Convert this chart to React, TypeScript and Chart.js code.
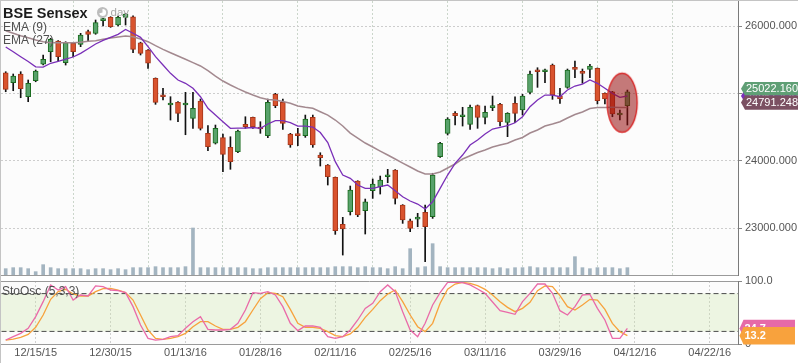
import React, { useEffect, useRef } from 'react';
import { Chart, registerables } from 'chart.js';

Chart.register(...registerables);

const FONT = "'Liberation Sans', Arial, Helvetica, sans-serif";

// ---------- data (one entry per trading day, 12/09/15 .. 04/11/16) ----------
const opens = [
  25307, 25159, 25288, 24951, 25188, 25432, 25619, 25777, 25456, 25743,
  25728, 25916, 25891, 26079, 26129, 26015, 26129, 26138, 25752, 25644,
  25224, 24976, 24828, 24868, 24828, 24630, 24887, 24408, 24260, 24343,
  24200, 24135, 24541, 24645, 24491, 24372, 24987, 24868, 24398, 24398,
  24373, 24645, 24086, 23938, 23755, 23058, 23245, 23700, 23259, 23556,
  23616, 23764, 23863, 23344, 23111, 23136, 23236, 23171, 24061, 24408,
  24705, 24654, 24541, 24818, 24645, 24788, 24838, 24571, 24853, 24754,
  25016, 25347, 25322, 25421, 24961, 25090, 25381, 25322, 25357, 25372,
  25001, 25025, 24680, 24818,
];
const highs = [
  25322, 25288, 25322, 25199, 25347, 25570, 25818, 25782, 25767, 25752,
  25891, 25941, 26089, 26114, 26138, 26148, 26188, 26150, 25760, 25650,
  25230, 25076, 24951, 24877, 25016, 25016, 24917, 24521, 24531, 24398,
  24357, 24457, 24654, 24650, 24580, 24917, 25001, 24917, 24408, 24482,
  24679, 24679, 24120, 23945, 23760, 23162, 23626, 23705, 23433, 23730,
  23774, 23874, 23870, 23350, 23136, 23221, 23344, 23815, 24274, 24640,
  24729, 24794, 24828, 24828, 24813, 24961, 24853, 24714, 24951, 24987,
  25332, 25381, 25362, 25436, 25076, 25362, 25481, 25362, 25431, 25378,
  25008, 25030, 24754, 25050,
];
const lows = [
  25025, 25040, 24936, 24877, 25173, 25421, 25470, 25481, 25421, 25545,
  25693, 25767, 25877, 26000, 25980, 26000, 26015, 25604, 25570, 25372,
  24838, 24902, 24605, 24580, 24387, 24482, 24457, 24150, 24249, 23838,
  23874, 24120, 24482, 24482, 24408, 24343, 24788, 24467, 24200, 24224,
  24348, 24200, 23923, 23641, 22909, 22602, 23196, 23171, 22914, 23443,
  23507, 23675, 23359, 23072, 22948, 23022, 22503, 23146, 24052, 24383,
  24531, 24516, 24467, 24482, 24546, 24744, 24516, 24358, 24565, 24679,
  24991, 25090, 25159, 24912, 24853, 25076, 25233, 25150, 25233, 24843,
  24843, 24654, 24605, 24531,
];
const closes = [
  25061, 25258, 25070, 25150, 25332, 25506, 25803, 25545, 25752, 25619,
  25866, 25877, 26049, 26099, 25990, 26129, 26178, 25654, 25595, 25447,
  24868, 24951, 24853, 24705, 24853, 24779, 24482, 24209, 24482, 24096,
  23987, 24442, 24506, 24506, 24472, 24868, 24818, 24556, 24234, 24373,
  24620, 24234, 24046, 23764, 22963, 22988, 23567, 23196, 23393, 23656,
  23715, 23789, 23443, 23122, 22998, 23162, 23022, 23789, 24260, 24620,
  24669, 24679, 24794, 24645, 24720, 24813, 24580, 24705, 24705, 24961,
  25288, 25322, 25347, 24976, 24921, 25347, 25357, 25298, 25406, 24892,
  24917, 24694, 24705, 25022.16,
];
const volumes = [
  19, 22, 22, 19, 10, 31, 22, 19, 19, 19,
  19, 16, 19, 19, 16, 19, 16, 22, 22, 22,
  25, 22, 22, 22, 25, 141, 22, 22, 22, 22,
  22, 22, 22, 19, 19, 22, 22, 22, 22, 22,
  22, 22, 22, 22, 25, 25, 25, 22, 25, 22,
  22, 19, 25, 19, 79, 22, 25, 94, 25, 22,
  22, 22, 22, 22, 22, 19, 22, 19, 22, 22,
  25, 22, 22, 22, 22, 22, 55, 22, 19, 22,
  22, 22, 19, 22,
];
const ema9 = [
  25688, 25619, 25545, 25473, 25395, 25390, 25447, 25476, 25510, 25540,
  25595, 25663, 25733, 25788, 25832, 25877, 25948, 25892, 25832, 25693,
  25545, 25421, 25298, 25199, 25150, 25076, 24951, 24779, 24680, 24580,
  24482, 24485, 24487, 24494, 24482, 24546, 24595, 24595, 24565, 24516,
  24516, 24501, 24420, 24270, 23987, 23789, 23740, 23641, 23592, 23592,
  23616, 23641, 23556, 23467, 23404, 23359, 23285, 23393, 23592, 23789,
  23963, 24086, 24234, 24309, 24398, 24472, 24497, 24521, 24565, 24654,
  24803, 24902, 24976, 24976, 24951, 25050, 25110, 25139, 25199, 25150,
  25076, 25001, 24942, 24961.42,
];
const ema27 = [
  25930, 25892, 25856, 25826, 25792, 25767, 25752, 25752, 25752, 25752,
  25758, 25773, 25782, 25803, 25822, 25837, 25852, 25841, 25807, 25767,
  25708, 25654, 25604, 25555, 25506, 25456, 25407, 25337, 25258, 25184,
  25125, 25070, 25021, 24976, 24936, 24909, 24902, 24880, 24853, 24813,
  24794, 24779, 24728, 24679, 24605, 24516, 24412, 24338, 24264, 24205,
  24145, 24086, 24027, 23967, 23908, 23849, 23804, 23804, 23834, 23893,
  23953, 24027, 24076, 24123, 24160, 24205, 24234, 24260, 24309, 24346,
  24412, 24457, 24516, 24546, 24580, 24635, 24687, 24724, 24776, 24790,
  24792, 24793, 24792, 24791.248,
];
const stochK = [
  6.3, 11.6, 16.9, 24.9, 43.4, 67.2, 93.7, 85.7, 91, 69.8,
  77.8, 76.2, 92.1, 91, 85.7, 84.7, 81.5, 59.3, 30.2, 9,
  6.3, 7.4, 11.6, 13.2, 24.9, 35.4, 43.4, 23.3, 22.2, 22.2,
  23.3, 32.8, 54, 81.5, 80.4, 83.1, 77.8, 59.3, 32.8, 21.2,
  28.6, 28.6, 26.5, 11.6, 9, 11.6, 22.2, 38.1, 56.6, 64.6,
  83.1, 93.7, 83.1, 51.3, 22.2, 11.6, 32.8, 61.9, 81.5, 97.9,
  97.9, 97.4, 93.7, 87.3, 80.4, 66.7, 52.9, 50.3, 47.1, 67.2,
  80.4, 95.2, 95.2, 80.4, 52.9, 46, 59.3, 77.8, 78.8, 56.6,
  38.1, 9, 9, 24.7,
];
const stochD = [
  6.3, 7.9, 10.6, 15.3, 26.5, 46, 70.9, 83.1, 86.8, 79.4,
  76.2, 76.2, 83.1, 87.8, 88.4, 85.7, 81.5, 69.8, 46, 22.2,
  9, 7.4, 9, 11.6, 16.9, 27.5, 35.4, 35.4, 28.6, 23.3,
  23.3, 26.5, 35.4, 54, 72, 81.5, 80.4, 75.1, 55, 32.8,
  26.5, 26.5, 24.9, 19.6, 13.2, 11.6, 15.9, 26.5, 42.3, 55,
  68.8, 79.4, 85.7, 67.2, 46, 27.5, 19.6, 32.8, 64.6, 86.8,
  95.2, 97.9, 96.3, 92.6, 86.8, 77.8, 67.2, 58.2, 51.3, 56.6,
  66.1, 84.7, 92.1, 91, 76.7, 59.3, 54, 61.9, 70.9, 69.8,
  55, 32.8, 19.6, 13.2,
];
const tickIndices = [4, 14, 24, 34, 44, 54, 64, 74, 84, 94];
const tickLabels = ['12/15/15', '12/30/15', '01/13/16', '01/28/16', '02/11/16', '02/25/16', '03/11/16', '03/29/16', '04/12/16', '04/22/16'];
const priceTicks = [23000, 24000, 25000, 26000];
const oscTicks = [0, 100];
const overbought = 80;
const oversold = 20;
const highlightPoint = { x: 82.3, y: 24862 };

// ---------- helpers ----------
const X_MIN = -0.63;
const X_MAX = 97.77;
const LAST = closes.length - 1;

function drawBadge(ctx: CanvasRenderingContext2D, tipX: number, cy: number, h: number, right: number, fill: string, text: string, font: string) {
  const bx = tipX + 4;
  ctx.save();
  ctx.beginPath();
  ctx.moveTo(tipX, cy);
  ctx.lineTo(bx, cy - h / 2);
  ctx.lineTo(right, cy - h / 2);
  ctx.lineTo(right, cy + h / 2);
  ctx.lineTo(bx, cy + h / 2);
  ctx.closePath();
  ctx.fillStyle = fill;
  ctx.fill();
  ctx.fillStyle = '#ffffff';
  ctx.font = font;
  ctx.textAlign = 'left';
  ctx.textBaseline = 'middle';
  ctx.fillText(text, bx + 1, cy + 0.5);
  ctx.restore();
}

function xScaleBase(showLabels: boolean) {
  return {
    type: 'linear' as const,
    min: X_MIN,
    max: X_MAX,
    offset: false,
    afterBuildTicks: (s: any) => { s.ticks = tickIndices.map((v) => ({ value: v })); },
    ticks: {
      display: showLabels,
      autoSkip: false,
      maxRotation: 0,
      padding: 2,
      color: '#555',
      font: { size: 11, family: FONT },
      callback: (v: any) => tickLabels[tickIndices.indexOf(Number(v))] ?? '',
    },
    grid: { color: showLabels ? '#cfcfcf' : '#cbd6cb', drawTicks: false, lineWidth: 1 },
    border: { display: true, color: '#9a9a9a', dash: [2, 2] },
    afterFit: (s: any) => { s.height = showLabels ? 19 : 0; s.paddingLeft = 0; s.paddingRight = 0; },
  };
}

export default function App() {
  const mainRef = useRef<HTMLCanvasElement>(null);
  const oscRef = useRef<HTMLCanvasElement>(null);

  useEffect(() => {
    Chart.defaults.font.family = FONT;

    // annotation ellipse used as a point style
    const ell = document.createElement('canvas');
    ell.width = 34;
    ell.height = 64;
    const ec = ell.getContext('2d')!;
    ec.beginPath();
    ec.ellipse(17, 32, 15, 29.5, 0, 0, Math.PI * 2);
    ec.fillStyle = 'rgba(150,12,12,0.55)';
    ec.fill();
    ec.lineWidth = 1.4;
    ec.strokeStyle = '#d82a2a';
    ec.stroke();

    const idx = closes.map((_, i) => i);
    const up = idx.map((i) => closes[i] >= opens[i]);

    const mainPlugin = {
      id: 'mainDeco',
      beforeDraw(chart: any) {
        const { ctx, chartArea: a } = chart;
        ctx.save();
        ctx.fillStyle = '#fcfcfc';
        ctx.fillRect(a.left, a.top, a.right - a.left, a.bottom - a.top);
        ctx.restore();
      },
      afterDraw(chart: any) {
        const { ctx } = chart;
        ctx.save();
        // frame
        ctx.strokeStyle = '#c4c4c4';
        ctx.lineWidth = 1;
        ctx.beginPath();
        ctx.moveTo(0, 0.5); ctx.lineTo(798, 0.5);
        ctx.moveTo(0.5, 0); ctx.lineTo(0.5, 276);
        ctx.stroke();
        // title
        ctx.textAlign = 'left';
        ctx.textBaseline = 'alphabetic';
        ctx.fillStyle = '#1c1c1c';
        ctx.font = `bold 14.5px ${FONT}`;
        ctx.fillText('BSE Sensex', 3, 17.5);
        // clock icon
        ctx.beginPath();
        ctx.arc(102.5, 12.5, 5.5, 0, Math.PI * 2);
        ctx.fillStyle = '#bdbdbd';
        ctx.fill();
        ctx.beginPath();
        ctx.moveTo(102.5, 12.5);
        ctx.arc(102.5, 12.5, 3.6, -Math.PI / 2, Math.PI * 0.9);
        ctx.closePath();
        ctx.fillStyle = '#ffffff';
        ctx.fill();
        ctx.fillStyle = '#a9a9a9';
        ctx.font = `11.5px ${FONT}`;
        ctx.fillText('day', 110.5, 15.5);
        ctx.fillStyle = '#505050';
        ctx.font = `12px ${FONT}`;
        ctx.fillText('EMA (9)', 3, 30.5);
        ctx.fillText('EMA (27)', 3, 44);
        ctx.restore();
        // value badges
        const ys = chart.scales.y;
        const base = ys.getPixelForValue(ema9[LAST]);
        const f = `11px ${FONT}`;
        drawBadge(ctx, 741, base, 13.5, 800, '#7b30b9', ema9[LAST].toFixed(3), f);
        drawBadge(ctx, 741, base - 7.2, 13.4, 800, '#5f9f75', closes[LAST].toFixed(3), f);
        drawBadge(ctx, 741, base + 6.6, 14.2, 800, '#7b5062', ema27[LAST].toFixed(3), f);
      },
    };

    const main = new Chart(mainRef.current!, {
      type: 'bar',
      data: {
        datasets: [
          {
            type: 'scatter',
            label: 'highlight',
            data: [highlightPoint],
            pointStyle: ell as any,
            pointRadius: 16,
            yAxisID: 'y',
            order: 0,
          } as any,
          {
            type: 'line',
            label: 'EMA (9)',
            data: idx.map((i) => ({ x: i, y: ema9[i] })),
            borderColor: '#7a2fb8',
            borderWidth: 1.3,
            pointRadius: 0,
            yAxisID: 'y',
            order: 1,
          },
          {
            type: 'line',
            label: 'EMA (27)',
            data: idx.map((i) => ({ x: i, y: ema27[i] })),
            borderColor: '#a3898f',
            borderWidth: 1.5,
            pointRadius: 0,
            yAxisID: 'y',
            order: 2,
          },
          {
            type: 'bar',
            label: 'body',
            data: idx.map((i) => ({ x: i, y: [opens[i], closes[i]] })) as any,
            backgroundColor: up.map((u) => (u ? '#58a26b' : '#d9532e')),
            borderColor: up.map((u) => (u ? '#1b6b1f' : '#a5361a')),
            borderWidth: 1,
            borderSkipped: false,
            barThickness: 5,
            minBarLength: 2,
            grouped: false,
            yAxisID: 'y',
            order: 3,
          },
          {
            type: 'bar',
            label: 'wick',
            data: idx.map((i) => ({ x: i, y: [lows[i], highs[i]] })) as any,
            backgroundColor: '#111111',
            barThickness: 1,
            grouped: false,
            yAxisID: 'y',
            order: 4,
          },
          {
            type: 'bar',
            label: 'Volume',
            data: idx.map((i) => ({ x: i, y: volumes[i] })) as any,
            backgroundColor: '#a3b4c0',
            barThickness: 3,
            grouped: false,
            yAxisID: 'yVol',
            order: 5,
          },
        ],
      },
      options: {
        responsive: false,
        animation: false,
        events: [],
        layout: { padding: { top: 1, left: 1, right: 0, bottom: 1 }, autoPadding: false },
        plugins: { legend: { display: false }, tooltip: { enabled: false }, title: { display: false } },
        scales: {
          x: xScaleBase(false) as any,
          y: {
            type: 'linear',
            position: 'right',
            min: 22306,
            max: 26371,
            afterBuildTicks: (s: any) => { s.ticks = priceTicks.map((v) => ({ value: v })); },
            ticks: {
              color: '#555',
              padding: 3,
              font: { size: 11, family: FONT },
              callback: (v: any) => Number(v).toFixed(3),
            },
            grid: { color: '#cdcdcd', tickColor: '#888', tickLength: 4, tickBorderDash: [] } as any,
            border: { display: true, color: '#7a7a7a', dash: [2, 2] },
            afterFit: (s: any) => { s.width = 60; s.paddingTop = 0; s.paddingBottom = 0; },
          },
          yVol: {
            type: 'linear',
            display: false,
            min: 0,
            max: 822,
          },
        },
      },
      plugins: [mainPlugin],
    });

    const oscPlugin = {
      id: 'oscDeco',
      beforeDraw(chart: any) {
        const { ctx, chartArea: a } = chart;
        ctx.save();
        ctx.fillStyle = '#fcfcfc';
        ctx.fillRect(a.left, a.top, a.right - a.left, a.bottom - a.top);
        ctx.restore();
      },
      afterDraw(chart: any) {
        const { ctx, chartArea: a } = chart;
        ctx.save();
        ctx.strokeStyle = '#9a9a9a';
        ctx.lineWidth = 1;
        ctx.beginPath();
        ctx.moveTo(a.left, Math.round(a.top) + 0.5);
        ctx.lineTo(a.right, Math.round(a.top) + 0.5);
        ctx.stroke();
        ctx.strokeStyle = '#c4c4c4';
        ctx.beginPath();
        ctx.moveTo(0.5, 0); ctx.lineTo(0.5, 87);
        ctx.stroke();
        ctx.fillStyle = '#505050';
        ctx.font = `12px ${FONT}`;
        ctx.textAlign = 'left';
        ctx.textBaseline = 'alphabetic';
        ctx.fillText('StoOsc (5,3,3)', 2, 19);
        ctx.restore();
        const ys = chart.scales.y;
        const f = `bold 11px ${FONT}`;
        drawBadge(ctx, 739.5, ys.getPixelForValue(stochK[LAST]), 17.5, 795, '#e66aa8', stochK[LAST].toFixed(1), f);
        drawBadge(ctx, 739.5, ys.getPixelForValue(stochD[LAST]), 17.5, 795, '#f8a23d', stochD[LAST].toFixed(1), f);
      },
    };

    const osc = new Chart(oscRef.current!, {
      type: 'line',
      data: {
        datasets: [
          {
            label: '%K',
            data: idx.map((i) => ({ x: i, y: stochK[i] })),
            borderColor: '#ea6aa8',
            borderWidth: 1.3,
            pointRadius: 0,
            fill: false,
            order: 1,
          },
          {
            label: '%D',
            data: idx.map((i) => ({ x: i, y: stochD[i] })),
            borderColor: '#f7a23c',
            borderWidth: 1.3,
            pointRadius: 0,
            fill: false,
            order: 2,
          },
          {
            label: 'overbought',
            data: [{ x: X_MIN - 1, y: overbought }, { x: X_MAX + 1, y: overbought }],
            borderColor: '#4a4a4a',
            borderWidth: 1,
            borderDash: [5, 3],
            pointRadius: 0,
            fill: false,
            order: 3,
          },
          {
            label: 'oversold',
            data: [{ x: X_MIN - 1, y: oversold }, { x: X_MAX + 1, y: oversold }],
            borderColor: '#4a4a4a',
            borderWidth: 1,
            borderDash: [5, 3],
            pointRadius: 0,
            fill: '-1',
            backgroundColor: 'rgba(205,229,172,0.32)',
            order: 3,
          },
        ],
      },
      options: {
        responsive: false,
        animation: false,
        events: [],
        layout: { padding: { top: 5, left: 1, right: 0, bottom: 0 }, autoPadding: false },
        plugins: { legend: { display: false }, tooltip: { enabled: false }, title: { display: false } },
        scales: {
          x: xScaleBase(true) as any,
          y: {
            type: 'linear',
            position: 'right',
            min: 0,
            max: 100,
            afterBuildTicks: (s: any) => { s.ticks = oscTicks.map((v) => ({ value: v })); },
            ticks: {
              color: '#555',
              padding: 3,
              font: { size: 11, family: FONT },
              callback: (v: any) => (Number(v) === 100 ? '100.0' : '0'),
            },
            grid: { color: 'rgba(0,0,0,0)', tickColor: '#888', tickLength: 4 },
            border: { display: true, color: '#7a7a7a' },
            afterFit: (s: any) => { s.width = 60; s.paddingTop = 0; s.paddingBottom = 0; },
          },
        },
      },
      plugins: [oscPlugin],
    });

    return () => {
      main.destroy();
      osc.destroy();
    };
  }, []);

  return (
    <div style={{ position: 'fixed', left: 0, top: 0, width: 798, height: 363, background: '#ffffff', overflow: 'hidden' }}>
      <canvas ref={mainRef} width={798} height={276} style={{ position: 'absolute', left: 0, top: 0, width: 798, height: 276 }} />
      <canvas ref={oscRef} width={798} height={87} style={{ position: 'absolute', left: 0, top: 276, width: 798, height: 87 }} />
    </div>
  );
}
